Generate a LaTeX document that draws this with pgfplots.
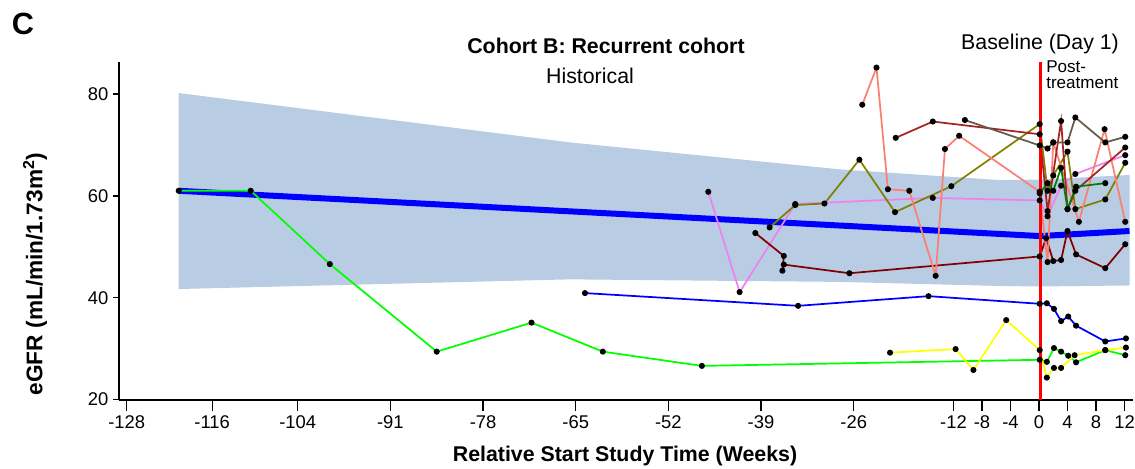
\documentclass[border=0pt]{standalone}
\usepackage{pgfplots}
\pgfplotsset{compat=1.18}
\usepackage{fontspec}
\setmainfont{Liberation Sans}
\definecolor{band}{RGB}{184,204,228}
\definecolor{cgreen}{RGB}{0,255,0}
\definecolor{cblue}{RGB}{0,0,255}
\definecolor{cyellow}{RGB}{255,255,0}
\definecolor{cviolet}{RGB}{238,130,238}
\definecolor{colive}{RGB}{128,128,0}
\definecolor{cmaroon}{RGB}{128,0,0}
\definecolor{cbrown}{RGB}{165,35,35}
\definecolor{csalmon}{RGB}{250,128,114}
\definecolor{cgrey}{RGB}{100,90,75}
\definecolor{cdgreen}{RGB}{0,128,0}
\begin{document}
\begin{tikzpicture}
\useasboundingbox (-89.25pt,-51pt) rectangle (762pt,300pt);
\begin{axis}[
  at={(0pt,0pt)}, anchor=south west,
  scale only axis, width=760.5pt, height=253.7pt,
  xmin=-129.08, xmax=13.19, ymin=19.9, ymax=86.35,
  axis x line*=bottom, axis y line*=left,
  axis line style={line width=1pt, black},
  xtick={-128,-116,-104,-91,-78,-65,-52,-39,-26,-12,-8,-4,0,4,8,12},
  ytick={20,40,60,80},
  tick align=outside, major tick length=4.5pt,
  xtick style={line width=1pt, black, /pgfplots/major tick length=8pt},
  ytick style={line width=1pt, black},
  tick label style={font=\fontsize{13.8}{15}\selectfont},
  xticklabel style={yshift=-4pt},
  /pgf/number format/assume math mode=true,
  clip=false,
]
% confidence band
\addplot[fill=band, draw=none] coordinates {
  (-120.7,80.2) (-65.8,70.5) (-27.9,65.2) (-5.5,63.1) (0.2,63.2) (12.7,64.1)
  (12.7,42.4) (0.2,42.2) (-5.5,42.3) (-27.9,43.1) (-65.8,43.6) (-120.7,41.7)
} -- cycle;
% mean line
\addplot[cblue, line width=4.5pt] coordinates {(-120.7,61.0) (0.2,52.1) (12.7,53.1)};

\pgfplotsset{pt/.style={line width=1.3pt, mark=*, mark size=1.6pt, mark options={fill=black, draw=black, solid}}}
% bright green
\addplot[cgreen, pt] coordinates {(-120.7,61.0) (-110.6,61.0) (-99.5,46.6) (-84.5,29.4) (-71.2,35.1) (-61.2,29.4) (-47.3,26.6) (0.1,27.8) (1.1,27.4) (2.1,30.1) (3.1,29.4) (4.1,28.6) (5.2,27.3) (9.3,29.7) (12.1,28.7)};
% blue thin
\addplot[cblue, pt] coordinates {(-63.7,40.9) (-33.8,38.4) (-15.5,40.3) (0.1,38.8) (1.1,38.9) (2.1,37.8) (3.1,35.4) (4.1,36.3) (5.2,34.5) (9.3,31.4) (12.2,32.0)};
% yellow
\addplot[cyellow, pt] coordinates {(-20.9,29.2) (-11.7,29.9) (-9.2,25.8) (-4.6,35.6) (0.1,29.7) (1.1,24.3) (2.1,26.2) (3.1,26.2) (5.0,28.7) (9.3,29.7) (12.2,30.2)};
% violet
\addplot[cviolet, pt] coordinates {(-46.4,60.8) (-42.0,41.1) (-34.2,58.4) (-14.9,59.6) (0.1,59.1) (1.2,56.0) (3.1,62.0) (5.1,64.3) (12.1,68.0)};
% olive
\addplot[colive, pt] coordinates {(-37.8,53.8) (-34.2,58.2) (-30.1,58.5) (-25.2,67.1) (-20.2,56.8) (-12.3,61.9) (0.1,74.1) (1.2,61.0) (2.0,64.0) (4.0,68.7) (5.1,57.4) (9.3,59.3) (12.1,66.5)};
% maroon low
\addplot[cmaroon, pt] coordinates {(-39.8,52.7) (-35.8,48.2) (-36.0,45.3) (-35.8,46.5) (-26.6,44.8) (0.1,48.1) (1.0,51.7) (2.0,47.2) (3.1,47.4) (4.0,53.1) (5.2,48.5) (9.3,45.8) (12.1,50.5)};
% salmon
\addplot[csalmon, pt] coordinates {(-24.8,77.9) (-22.8,85.2) (-21.2,61.3) (-18.2,61.0) (-14.5,44.3) (-13.2,69.2) (-11.2,71.8) (0.1,60.8) (1.2,47.0) (2.0,70.5) (5.6,54.9) (9.2,73.1) (12.1,54.9)};
% brown high
\addplot[cbrown, pt] coordinates {(-20.1,71.4) (-14.9,74.6) (0.1,72.1) (1.2,57.0) (3.1,74.7) (4.0,57.4) (5.1,61.0) (12.1,69.5)};
% grey
\addplot[cgrey, pt] coordinates {(-10.4,74.9) (0.1,69.9) (1.2,69.3) (2.0,70.5) (4.0,70.5) (5.1,75.4) (9.3,70.5) (12.1,71.6)};
% dark green
\addplot[cdgreen, pt] coordinates {(0.1,60.5) (1.2,62.5) (2.0,61.0) (3.1,65.5) (4.0,57.4) (5.2,61.8) (9.3,62.5)};
% baseline line
\addplot[red, line width=2pt] coordinates {(0.2,19.9) (0.2,86.35)};
\end{axis}
\node[font=\fontsize{23}{26}\selectfont\bfseries] at (-72pt,282pt) {C};
\node[font=\fontsize{16}{18}\selectfont\bfseries] at (365.25pt,265.5pt) {Cohort B: Recurrent cohort};
\node[font=\fontsize{16}{18}\selectfont] at (353.25pt,243pt) {Historical};
\node[font=\fontsize{16}{18}\selectfont] at (690.75pt,267pt) {Baseline (Day 1)};
\node[font=\fontsize{12.8}{12}\selectfont, anchor=west, align=left, inner sep=0pt] at (695.25pt,243.75pt) {Post-\\treatment};
\node[font=\fontsize{16}{18}\selectfont\bfseries] at (379.5pt,-42pt) {Relative Start Study Time (Weeks)};
\node[font=\fontsize{17}{19}\selectfont\bfseries, rotate=90] at (-63pt,94.5pt) {eGFR (mL/min/1.73m\textsuperscript{2})};
\end{tikzpicture}
\end{document}
